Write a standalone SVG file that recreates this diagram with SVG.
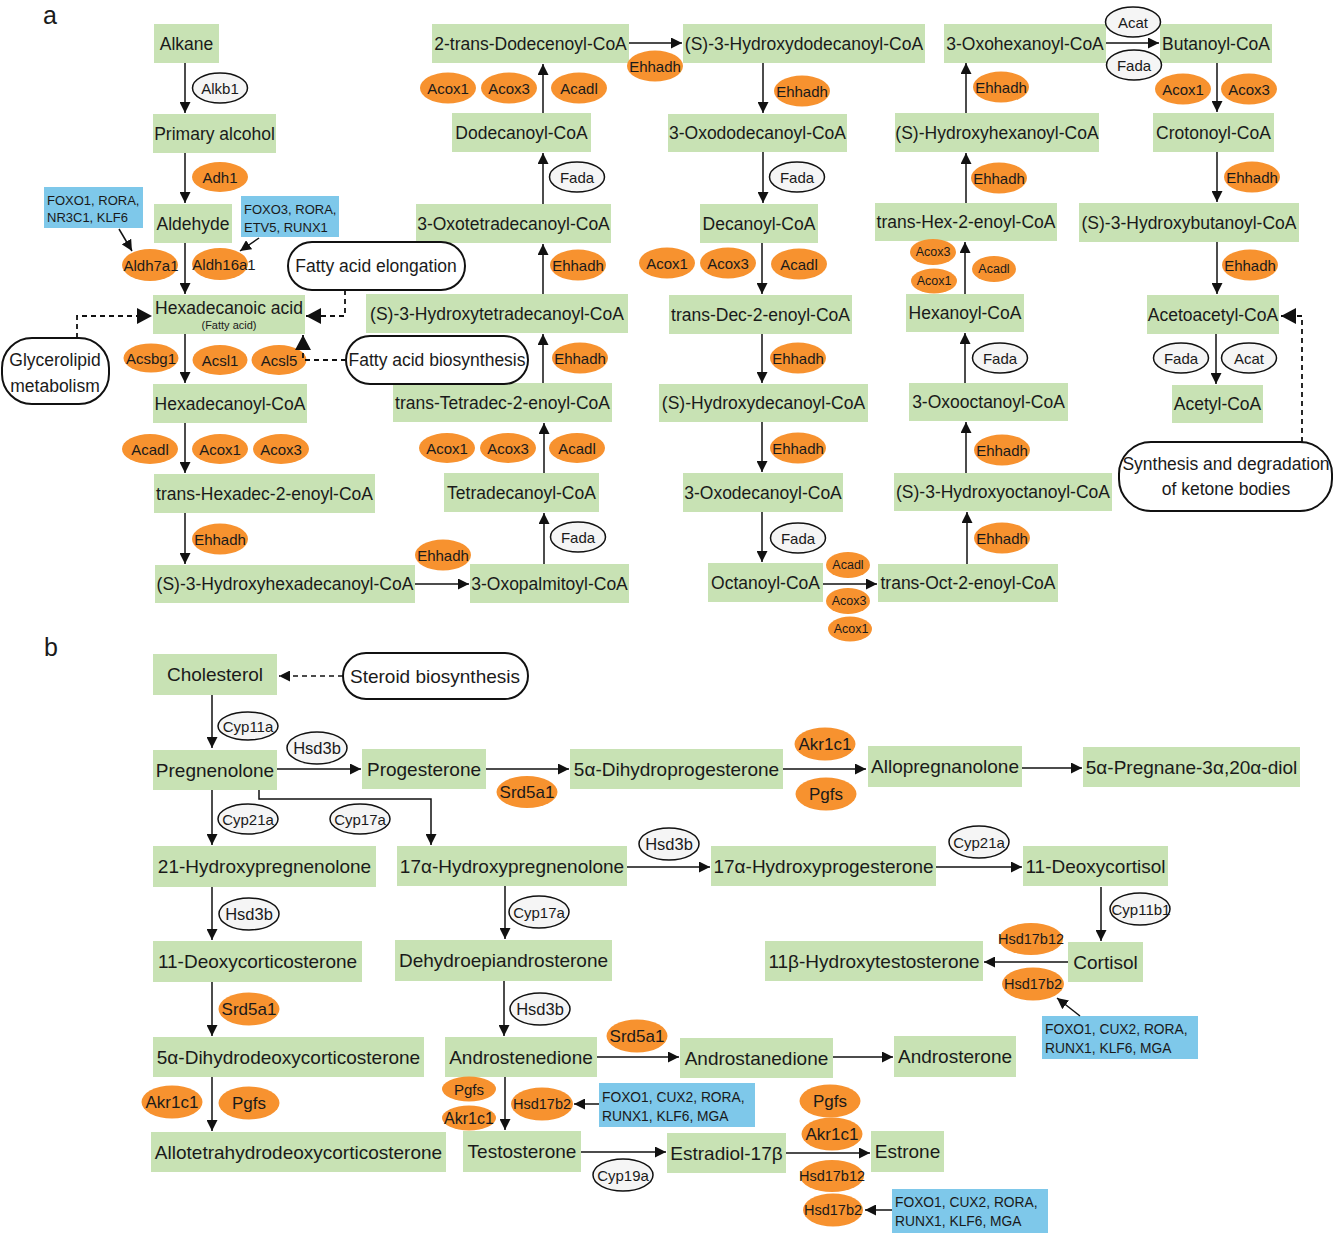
<svg xmlns="http://www.w3.org/2000/svg" width="1333" height="1233" viewBox="0 0 1333 1233">
<defs>
<marker id="ar" markerUnits="userSpaceOnUse" markerWidth="11" markerHeight="11" viewBox="0 0 11 11" refX="11" refY="5.5" orient="auto"><path d="M0,0L11,5.5L0,11z" fill="#111"/></marker>
<marker id="arb" markerUnits="userSpaceOnUse" markerWidth="15" markerHeight="16" viewBox="0 0 15 16" refX="15" refY="8" orient="auto"><path d="M0,0L15,8L0,16z" fill="#111"/></marker>
</defs>
<style>
text{font-family:"Liberation Sans",Arial,sans-serif;fill:#1a1a1a;text-anchor:middle;dominant-baseline:central}
.m rect{fill:#c8e2b4}
.m text{font-size:17.5px}
.mb rect{fill:#c8e2b4}
.mb text{font-size:19px}
.o ellipse{fill:#f7922f}
.o text{font-size:15px}
.os ellipse{fill:#f7922f}
.os text{font-size:12.5px}
.w ellipse{fill:#f5f5f5;stroke:#111;stroke-width:1.5}
.w text{font-size:15px}
.t rect{fill:#7ec8ea}
.t text{font-size:13px;text-anchor:start}
.tb rect{fill:#7ec8ea}
.tb text{font-size:13.8px;text-anchor:start}
.p rect{fill:#fff;stroke:#111;stroke-width:2}
.p text{font-size:17.5px}
#connectors line,#connectors path{stroke:#111;stroke-width:1.5;fill:none}
#connectors .d{stroke-dasharray:5,4;stroke-width:1.8}
.lbl{font-size:25px}
</style>
<rect width="1333" height="1233" fill="#fff"/>
<text class="lbl" x="50" y="15">a</text>
<text class="lbl" x="51" y="647">b</text>

<!-- Part a compounds -->
<g id="alkane" class="m"><rect x="154" y="24" width="65" height="39"/><text x="186.5" y="43.5">Alkane</text></g>
<g id="primary-alcohol" class="m"><rect x="153" y="114" width="123" height="39"/><text x="214.5" y="133.5">Primary alcohol</text></g>
<g id="aldehyde" class="m"><rect x="154" y="204" width="78" height="39"/><text x="193" y="223.5">Aldehyde</text></g>
<g id="hexadecanoic-acid" class="m"><rect x="153" y="295" width="152" height="39"/><text x="229" y="308">Hexadecanoic acid</text><text x="229" y="325" style="font-size:11px">(Fatty acid)</text></g>
<g id="hexadecanoyl-coa" class="m"><rect x="153" y="384" width="154" height="39"/><text x="230" y="403.5">Hexadecanoyl-CoA</text></g>
<g id="trans-hexadec" class="m"><rect x="154" y="474" width="221" height="39"/><text x="264.5" y="493.5">trans-Hexadec-2-enoyl-CoA</text></g>
<g id="s3-hydroxyhexadecanoyl" class="m"><rect x="155" y="565" width="260" height="38"/><text x="285" y="584">(S)-3-Hydroxyhexadecanoyl-CoA</text></g>
<g id="oxopalmitoyl" class="m"><rect x="470" y="564" width="159" height="39"/><text x="549.5" y="583.5">3-Oxopalmitoyl-CoA</text></g>
<g id="tetradecanoyl" class="m"><rect x="444" y="473" width="155" height="39"/><text x="521.5" y="492.5">Tetradecanoyl-CoA</text></g>
<g id="trans-tetradec" class="m"><rect x="393" y="383" width="219" height="39"/><text x="502.5" y="402.5">trans-Tetradec-2-enoyl-CoA</text></g>
<g id="s3-hydroxytetradecanoyl" class="m"><rect x="366" y="294" width="262" height="39"/><text x="497" y="313.5">(S)-3-Hydroxytetradecanoyl-CoA</text></g>
<g id="oxotetradecanoyl" class="m"><rect x="416" y="204" width="195" height="39"/><text x="513.5" y="223.5">3-Oxotetradecanoyl-CoA</text></g>
<g id="dodecanoyl" class="m"><rect x="452" y="113" width="139" height="39"/><text x="521.5" y="132.5">Dodecanoyl-CoA</text></g>
<g id="trans-dodecenoyl" class="m"><rect x="432" y="24" width="197" height="39"/><text x="530.5" y="43.5">2-trans-Dodecenoyl-CoA</text></g>
<g id="s3-hydroxydodecanoyl" class="m"><rect x="683" y="24" width="242" height="39"/><text x="804" y="43.5">(S)-3-Hydroxydodecanoyl-CoA</text></g>
<g id="oxododecanoyl" class="m"><rect x="668" y="114" width="179" height="38"/><text x="757.5" y="133">3-Oxododecanoyl-CoA</text></g>
<g id="decanoyl" class="m"><rect x="700" y="204" width="118" height="39"/><text x="759" y="223.5">Decanoyl-CoA</text></g>
<g id="trans-dec" class="m"><rect x="669" y="295" width="183" height="39"/><text x="760.5" y="314.5">trans-Dec-2-enoyl-CoA</text></g>
<g id="s-hydroxydecanoyl" class="m"><rect x="659" y="384" width="209" height="38"/><text x="763.5" y="403">(S)-Hydroxydecanoyl-CoA</text></g>
<g id="oxodecanoyl" class="m"><rect x="683" y="473" width="160" height="39"/><text x="763" y="492.5">3-Oxodecanoyl-CoA</text></g>
<g id="octanoyl" class="m"><rect x="708" y="563" width="115" height="39"/><text x="765.5" y="582.5">Octanoyl-CoA</text></g>
<g id="trans-oct" class="m"><rect x="878" y="564" width="180" height="38"/><text x="968" y="583">trans-Oct-2-enoyl-CoA</text></g>
<g id="s3-hydroxyoctanoyl" class="m"><rect x="894" y="473" width="218" height="38"/><text x="1003" y="492">(S)-3-Hydroxyoctanoyl-CoA</text></g>
<g id="oxooctanoyl" class="m"><rect x="909" y="383" width="159" height="38"/><text x="988.5" y="402">3-Oxooctanoyl-CoA</text></g>
<g id="hexanoyl" class="m"><rect x="906" y="294" width="118" height="38"/><text x="965" y="313">Hexanoyl-CoA</text></g>
<g id="trans-hex" class="m"><rect x="875" y="203" width="182" height="38"/><text x="966" y="222">trans-Hex-2-enoyl-CoA</text></g>
<g id="s-hydroxyhexanoyl" class="m"><rect x="895" y="113" width="204" height="39"/><text x="997" y="132.5">(S)-Hydroxyhexanoyl-CoA</text></g>
<g id="oxohexanoyl" class="m"><rect x="944" y="24" width="162" height="39"/><text x="1025" y="43.5">3-Oxohexanoyl-CoA</text></g>
<g id="butanoyl" class="m"><rect x="1160" y="24" width="112" height="39"/><text x="1216" y="43.5">Butanoyl-CoA</text></g>
<g id="crotonoyl" class="m"><rect x="1153" y="113" width="121" height="39"/><text x="1213.5" y="132.5">Crotonoyl-CoA</text></g>
<g id="s3-hydroxybutanoyl" class="m"><rect x="1079" y="203" width="220" height="39"/><text x="1189" y="222.5">(S)-3-Hydroxybutanoyl-CoA</text></g>
<g id="acetoacetyl" class="m"><rect x="1147" y="295" width="132" height="39"/><text x="1213" y="314.5">Acetoacetyl-CoA</text></g>
<g id="acetyl" class="m"><rect x="1172" y="385" width="91" height="38"/><text x="1217.5" y="404">Acetyl-CoA</text></g>

<!-- Part a pathway boxes -->
<g id="fa-elongation" class="p"><rect x="288" y="242" width="177" height="48" rx="24"/><text x="376" y="266">Fatty acid elongation</text></g>
<g id="glycerolipid" class="p"><rect x="2" y="338" width="107" height="66" rx="30"/><text x="55" y="360">Glycerolipid</text><text x="55" y="386">metabolism</text></g>
<g id="fa-biosynthesis" class="p"><rect x="346" y="336" width="182" height="48" rx="24"/><text x="437" y="360">Fatty acid biosynthesis</text></g>
<g id="ketone" class="p"><rect x="1119" y="442" width="213" height="69" rx="32"/><text x="1226" y="464">Synthesis and degradation</text><text x="1226" y="489">of ketone bodies</text></g>

<!-- Part a TF boxes -->
<g id="tf-a1" class="t"><rect x="44" y="187" width="99" height="41"/><text x="47" y="200">FOXO1, RORA,</text><text x="47" y="217">NR3C1, KLF6</text></g>
<g id="tf-a2" class="t"><rect x="241" y="196" width="98" height="41"/><text x="244" y="209">FOXO3, RORA,</text><text x="244" y="227">ETV5, RUNX1</text></g>

<!-- Part a enzymes -->
<g id="alkb1" class="w"><ellipse cx="220" cy="88" rx="27.5" ry="15"/><text x="220" y="88">Alkb1</text></g>
<g id="adh1" class="o"><ellipse cx="220" cy="177" rx="28" ry="15"/><text x="220" y="177">Adh1</text></g>
<g id="aldh7a1" class="o"><ellipse cx="150" cy="265" rx="28" ry="16"/><text x="151" y="265">Aldh7a1</text></g>
<g id="aldh16a1" class="o"><ellipse cx="220" cy="264" rx="28" ry="16"/><text x="224" y="264">Aldh16a1</text></g>
<g id="acsbg1" class="o"><ellipse cx="151" cy="358" rx="27.5" ry="14.5"/><text x="151" y="358">Acsbg1</text></g>
<g id="acsl1" class="o"><ellipse cx="220" cy="360" rx="27.5" ry="15"/><text x="220" y="360">Acsl1</text></g>
<g id="acsl5" class="o"><ellipse cx="279" cy="360" rx="27.5" ry="15"/><text x="279" y="360">Acsl5</text></g>
<g id="acadl-a1" class="o"><ellipse cx="150" cy="449" rx="28" ry="15"/><text x="150" y="449">Acadl</text></g>
<g id="acox1-a1" class="o"><ellipse cx="220" cy="449" rx="28" ry="15"/><text x="220" y="449">Acox1</text></g>
<g id="acox3-a1" class="o"><ellipse cx="281" cy="449" rx="28" ry="15"/><text x="281" y="449">Acox3</text></g>
<g id="ehhadh-a1" class="o"><ellipse cx="220" cy="539" rx="28" ry="15.5"/><text x="220" y="539">Ehhadh</text></g>
<g id="ehhadh-a2" class="o"><ellipse cx="443" cy="555" rx="28" ry="15.5"/><text x="443" y="555">Ehhadh</text></g>
<g id="fada-a1" class="w"><ellipse cx="578" cy="537" rx="27.5" ry="15"/><text x="578" y="537">Fada</text></g>
<g id="acox1-a2" class="o"><ellipse cx="447" cy="448" rx="28" ry="15"/><text x="447" y="448">Acox1</text></g>
<g id="acox3-a2" class="o"><ellipse cx="508" cy="448" rx="28" ry="15"/><text x="508" y="448">Acox3</text></g>
<g id="acadl-a2" class="o"><ellipse cx="577" cy="448" rx="28" ry="15"/><text x="577" y="448">Acadl</text></g>
<g id="ehhadh-a3" class="o"><ellipse cx="580" cy="358" rx="28" ry="15.5"/><text x="580" y="358">Ehhadh</text></g>
<g id="ehhadh-a4" class="o"><ellipse cx="578" cy="265" rx="28" ry="15.5"/><text x="578" y="265">Ehhadh</text></g>
<g id="fada-a2" class="w"><ellipse cx="577" cy="177" rx="27.5" ry="15"/><text x="577" y="177">Fada</text></g>
<g id="acox1-a3" class="o"><ellipse cx="448" cy="88" rx="28" ry="15.5"/><text x="448" y="88">Acox1</text></g>
<g id="acox3-a3" class="o"><ellipse cx="509" cy="88" rx="28" ry="15.5"/><text x="509" y="88">Acox3</text></g>
<g id="acadl-a3" class="o"><ellipse cx="579" cy="88" rx="28" ry="15.5"/><text x="579" y="88">Acadl</text></g>
<g id="ehhadh-a5" class="o"><ellipse cx="655" cy="66" rx="28" ry="15.5"/><text x="655" y="66">Ehhadh</text></g>
<g id="ehhadh-a6" class="o"><ellipse cx="802" cy="91" rx="28" ry="15.5"/><text x="802" y="91">Ehhadh</text></g>
<g id="fada-a3" class="w"><ellipse cx="797" cy="177" rx="27.5" ry="15"/><text x="797" y="177">Fada</text></g>
<g id="acox1-a4" class="o"><ellipse cx="667" cy="263" rx="28" ry="15.5"/><text x="667" y="263">Acox1</text></g>
<g id="acox3-a4" class="o"><ellipse cx="728" cy="263" rx="28" ry="15.5"/><text x="728" y="263">Acox3</text></g>
<g id="acadl-a4" class="o"><ellipse cx="799" cy="264" rx="28" ry="15.5"/><text x="799" y="264">Acadl</text></g>
<g id="ehhadh-a7" class="o"><ellipse cx="798" cy="358" rx="28" ry="15.5"/><text x="798" y="358">Ehhadh</text></g>
<g id="ehhadh-a8" class="o"><ellipse cx="798" cy="448" rx="28" ry="15.5"/><text x="798" y="448">Ehhadh</text></g>
<g id="fada-a4" class="w"><ellipse cx="798" cy="538" rx="27.5" ry="15"/><text x="798" y="538">Fada</text></g>
<g id="acadl-a5" class="os"><ellipse cx="848" cy="565" rx="22" ry="13"/><text x="848" y="565">Acadl</text></g>
<g id="acox3-a5" class="os"><ellipse cx="848" cy="601" rx="22" ry="13"/><text x="849" y="601">Acox3</text></g>
<g id="acox1-a5" class="os"><ellipse cx="850" cy="629" rx="22" ry="12.5"/><text x="851" y="629">Acox1</text></g>
<g id="ehhadh-a9" class="o"><ellipse cx="1002" cy="538" rx="28" ry="15.5"/><text x="1002" y="538">Ehhadh</text></g>
<g id="ehhadh-a10" class="o"><ellipse cx="1002" cy="450" rx="28" ry="15.5"/><text x="1002" y="450">Ehhadh</text></g>
<g id="fada-a5" class="w"><ellipse cx="1000" cy="358" rx="27.5" ry="15"/><text x="1000" y="358">Fada</text></g>
<g id="acox3-a6" class="os"><ellipse cx="933" cy="252" rx="23" ry="13"/><text x="933" y="252">Acox3</text></g>
<g id="acox1-a6" class="os"><ellipse cx="934" cy="281" rx="23" ry="12.5"/><text x="934" y="281">Acox1</text></g>
<g id="acadl-a6" class="os"><ellipse cx="994" cy="269" rx="22" ry="13"/><text x="994" y="269">Acadl</text></g>
<g id="ehhadh-a11" class="o"><ellipse cx="999" cy="178" rx="28" ry="15.5"/><text x="999" y="178">Ehhadh</text></g>
<g id="ehhadh-a12" class="o"><ellipse cx="1001" cy="87" rx="28" ry="15.5"/><text x="1001" y="87">Ehhadh</text></g>
<g id="acat-a1" class="w"><ellipse cx="1133" cy="22" rx="27.5" ry="15"/><text x="1133" y="22">Acat</text></g>
<g id="fada-a6" class="w"><ellipse cx="1134" cy="65" rx="27.5" ry="15"/><text x="1134" y="65">Fada</text></g>
<g id="acox1-a7" class="o"><ellipse cx="1183" cy="89" rx="28" ry="15.5"/><text x="1183" y="89">Acox1</text></g>
<g id="acox3-a7" class="o"><ellipse cx="1249" cy="89" rx="28" ry="15.5"/><text x="1249" y="89">Acox3</text></g>
<g id="ehhadh-a13" class="o"><ellipse cx="1252" cy="177" rx="28" ry="15.5"/><text x="1252" y="177">Ehhadh</text></g>
<g id="ehhadh-a14" class="o"><ellipse cx="1250" cy="265" rx="28" ry="15.5"/><text x="1250" y="265">Ehhadh</text></g>
<g id="fada-a7" class="w"><ellipse cx="1181" cy="358" rx="27.5" ry="15"/><text x="1181" y="358">Fada</text></g>
<g id="acat-a2" class="w"><ellipse cx="1249" cy="358" rx="27.5" ry="15"/><text x="1249" y="358">Acat</text></g>

<!-- Part b compounds -->
<g id="cholesterol" class="mb"><rect x="153" y="654" width="124" height="41"/><text x="215" y="674.5">Cholesterol</text></g>
<g id="pregnenolone" class="mb"><rect x="153" y="750" width="124" height="40"/><text x="215" y="770">Pregnenolone</text></g>
<g id="progesterone" class="mb"><rect x="362" y="749" width="124" height="40"/><text x="424" y="769">Progesterone</text></g>
<g id="dihydroprogesterone" class="mb"><rect x="570" y="749" width="213" height="40"/><text x="676.5" y="769">5α-Dihydroprogesterone</text></g>
<g id="allopregnanolone" class="mb"><rect x="868" y="746" width="154" height="41"/><text x="945" y="766.5">Allopregnanolone</text></g>
<g id="pregnanediol" class="mb"><rect x="1083" y="747" width="217" height="40"/><text x="1191.5" y="767">5α-Pregnane-3α,20α-diol</text></g>
<g id="hydroxypregnenolone21" class="mb"><rect x="153" y="846" width="223" height="41"/><text x="264.5" y="866.5">21-Hydroxypregnenolone</text></g>
<g id="hydroxypregnenolone17" class="mb"><rect x="397" y="846" width="230" height="40"/><text x="512" y="866">17α-Hydroxypregnenolone</text></g>
<g id="hydroxyprogesterone17" class="mb"><rect x="711" y="846" width="225" height="40"/><text x="823.5" y="866">17α-Hydroxyprogesterone</text></g>
<g id="deoxycortisol" class="mb"><rect x="1023" y="846" width="145" height="40"/><text x="1095.5" y="866">11-Deoxycortisol</text></g>
<g id="cortisol" class="mb"><rect x="1068" y="942" width="75" height="40"/><text x="1105.5" y="962">Cortisol</text></g>
<g id="hydroxytestosterone" class="mb"><rect x="765" y="941" width="218" height="40"/><text x="874" y="961">11β-Hydroxytestosterone</text></g>
<g id="deoxycorticosterone" class="mb"><rect x="153" y="941" width="209" height="41"/><text x="257.5" y="961.5">11-Deoxycorticosterone</text></g>
<g id="dhea" class="mb"><rect x="395" y="940" width="217" height="41"/><text x="503.5" y="960.5">Dehydroepiandrosterone</text></g>
<g id="dihydrodeoxycorticosterone" class="mb"><rect x="153" y="1037" width="271" height="40"/><text x="288.5" y="1057">5α-Dihydrodeoxycorticosterone</text></g>
<g id="androstenedione" class="mb"><rect x="445" y="1037" width="152" height="40"/><text x="521" y="1057">Androstenedione</text></g>
<g id="androstanedione" class="mb"><rect x="680" y="1038" width="153" height="40"/><text x="756.5" y="1058">Androstanedione</text></g>
<g id="androsterone" class="mb"><rect x="894" y="1036" width="122" height="41"/><text x="955" y="1056.5">Androsterone</text></g>
<g id="allotetrahydro" class="mb"><rect x="151" y="1132" width="295" height="40"/><text x="298.5" y="1152">Allotetrahydrodeoxycorticosterone</text></g>
<g id="testosterone" class="mb"><rect x="463" y="1131" width="118" height="41"/><text x="522" y="1151.5">Testosterone</text></g>
<g id="estradiol" class="mb"><rect x="667" y="1133" width="119" height="40"/><text x="726.5" y="1153">Estradiol-17β</text></g>
<g id="estrone" class="mb"><rect x="871" y="1131" width="73" height="41"/><text x="907.5" y="1151.5">Estrone</text></g>

<g id="steroid-biosynthesis" class="p"><rect x="343" y="653" width="185" height="46" rx="23"/><text x="435" y="676" style="font-size:19px">Steroid biosynthesis</text></g>

<!-- Part b TF boxes -->
<g id="tf-b1" class="tb"><rect x="1042" y="1016" width="156" height="43"/><text x="1045" y="1029">FOXO1, CUX2, RORA,</text><text x="1045" y="1048">RUNX1, KLF6, MGA</text></g>
<g id="tf-b2" class="tb"><rect x="599" y="1083" width="156" height="44"/><text x="602" y="1097">FOXO1, CUX2, RORA,</text><text x="602" y="1116">RUNX1, KLF6, MGA</text></g>
<g id="tf-b3" class="tb"><rect x="892" y="1189" width="156" height="44"/><text x="895" y="1202">FOXO1, CUX2, RORA,</text><text x="895" y="1221">RUNX1, KLF6, MGA</text></g>

<!-- Part b enzymes -->
<g id="cyp11a" class="w"><ellipse cx="248" cy="726" rx="30" ry="14"/><text x="248" y="726">Cyp11a</text></g>
<g id="hsd3b-b1" class="w"><ellipse cx="317" cy="748" rx="30" ry="16"/><text x="317" y="748" style="font-size:16.5px">Hsd3b</text></g>
<g id="cyp21a-b1" class="w"><ellipse cx="248" cy="819" rx="30" ry="15"/><text x="248" y="819">Cyp21a</text></g>
<g id="cyp17a-b1" class="w"><ellipse cx="360" cy="819" rx="30" ry="15"/><text x="360" y="819">Cyp17a</text></g>
<g id="hsd3b-b2" class="w"><ellipse cx="669" cy="844" rx="30" ry="16"/><text x="669" y="844" style="font-size:16.5px">Hsd3b</text></g>
<g id="cyp21a-b2" class="w"><ellipse cx="979" cy="842" rx="30" ry="16"/><text x="979" y="842">Cyp21a</text></g>
<g id="cyp11b1" class="w"><ellipse cx="1140" cy="909" rx="30" ry="16"/><text x="1141" y="909">Cyp11b1</text></g>
<g id="hsd3b-b3" class="w"><ellipse cx="249" cy="914" rx="30" ry="16"/><text x="249" y="914" style="font-size:16.5px">Hsd3b</text></g>
<g id="cyp17a-b2" class="w"><ellipse cx="539" cy="912" rx="30" ry="16"/><text x="539" y="912">Cyp17a</text></g>
<g id="hsd3b-b4" class="w"><ellipse cx="540" cy="1009" rx="30" ry="16"/><text x="540" y="1009" style="font-size:16.5px">Hsd3b</text></g>
<g id="cyp19a" class="w"><ellipse cx="623" cy="1175" rx="30" ry="16"/><text x="623" y="1175">Cyp19a</text></g>

<g id="srd5a1-b1" class="o"><ellipse cx="527" cy="792" rx="30.5" ry="16"/><text x="527" y="792" style="font-size:17px">Srd5a1</text></g>
<g id="akr1c1-b1" class="o"><ellipse cx="825" cy="744" rx="30.5" ry="16.5"/><text x="825" y="744" style="font-size:17px">Akr1c1</text></g>
<g id="pgfs-b1" class="o"><ellipse cx="826" cy="794" rx="30.5" ry="16.5"/><text x="826" y="794" style="font-size:17px">Pgfs</text></g>
<g id="hsd17b12-b1" class="o"><ellipse cx="1031" cy="939" rx="32" ry="16"/><text x="1031" y="939" style="font-size:14.5px">Hsd17b12</text></g>
<g id="hsd17b2-b1" class="o"><ellipse cx="1033" cy="984" rx="31" ry="16.5"/><text x="1033" y="984" style="font-size:14.5px">Hsd17b2</text></g>
<g id="srd5a1-b2" class="o"><ellipse cx="249" cy="1009" rx="30.5" ry="16.5"/><text x="249" y="1009" style="font-size:17px">Srd5a1</text></g>
<g id="akr1c1-b2" class="o"><ellipse cx="172" cy="1102" rx="30.5" ry="16.5"/><text x="172" y="1102" style="font-size:17px">Akr1c1</text></g>
<g id="pgfs-b2" class="o"><ellipse cx="249" cy="1103" rx="30.5" ry="16.5"/><text x="249" y="1103" style="font-size:17px">Pgfs</text></g>
<g id="srd5a1-b3" class="o"><ellipse cx="637" cy="1036" rx="30.5" ry="16.5"/><text x="637" y="1036" style="font-size:17px">Srd5a1</text></g>
<g id="pgfs-b3" class="o"><ellipse cx="469" cy="1089" rx="27" ry="12.5"/><text x="469" y="1089" style="font-size:15px">Pgfs</text></g>
<g id="akr1c1-b3" class="o"><ellipse cx="469" cy="1118" rx="27" ry="12.5"/><text x="469" y="1118" style="font-size:16px">Akr1c1</text></g>
<g id="hsd17b2-b2" class="o"><ellipse cx="542" cy="1104" rx="31" ry="16.5"/><text x="542" y="1104" style="font-size:14.5px">Hsd17b2</text></g>
<g id="pgfs-b4" class="o"><ellipse cx="830" cy="1101" rx="30.5" ry="16.5"/><text x="830" y="1101" style="font-size:17px">Pgfs</text></g>
<g id="akr1c1-b4" class="o"><ellipse cx="832" cy="1134" rx="30.5" ry="16.5"/><text x="832" y="1134" style="font-size:17px">Akr1c1</text></g>
<g id="hsd17b12-b2" class="o"><ellipse cx="832" cy="1176" rx="32" ry="16"/><text x="832" y="1176" style="font-size:14.5px">Hsd17b12</text></g>
<g id="hsd17b2-b3" class="o"><ellipse cx="833" cy="1210" rx="30" ry="16.5"/><text x="833" y="1210" style="font-size:14.5px">Hsd17b2</text></g>

<!-- Connectors -->
<g id="connectors">
<line x1="185" y1="63" x2="185" y2="113" marker-end="url(#ar)"/>
<line x1="185" y1="153" x2="185" y2="203" marker-end="url(#ar)"/>
<line x1="185" y1="243" x2="185" y2="294" marker-end="url(#ar)"/>
<line x1="119" y1="229" x2="132" y2="251" marker-end="url(#ar)"/>
<line x1="259" y1="238" x2="240" y2="251" marker-end="url(#ar)"/>
<line x1="185" y1="334" x2="185" y2="383" marker-end="url(#ar)"/>
<line x1="185" y1="423" x2="185" y2="473" marker-end="url(#ar)"/>
<line x1="185" y1="513" x2="185" y2="564" marker-end="url(#ar)"/>
<line x1="415" y1="584" x2="469" y2="584" marker-end="url(#ar)"/>
<line x1="544" y1="564" x2="544" y2="513" marker-end="url(#ar)"/>
<line x1="544" y1="473" x2="544" y2="423" marker-end="url(#ar)"/>
<line x1="543" y1="383" x2="543" y2="334" marker-end="url(#ar)"/>
<line x1="543" y1="294" x2="543" y2="244" marker-end="url(#ar)"/>
<line x1="543" y1="204" x2="543" y2="153" marker-end="url(#ar)"/>
<line x1="543" y1="113" x2="543" y2="64" marker-end="url(#ar)"/>
<line x1="629" y1="43" x2="682" y2="43" marker-end="url(#ar)"/>
<line x1="763" y1="63" x2="763" y2="113" marker-end="url(#ar)"/>
<line x1="763" y1="152" x2="763" y2="203" marker-end="url(#ar)"/>
<line x1="762" y1="243" x2="762" y2="294" marker-end="url(#ar)"/>
<line x1="762" y1="334" x2="762" y2="383" marker-end="url(#ar)"/>
<line x1="762" y1="422" x2="762" y2="472" marker-end="url(#ar)"/>
<line x1="762" y1="512" x2="762" y2="562" marker-end="url(#ar)"/>
<line x1="823" y1="584" x2="877" y2="584" marker-end="url(#ar)"/>
<line x1="967" y1="564" x2="967" y2="512" marker-end="url(#ar)"/>
<line x1="966" y1="473" x2="966" y2="422" marker-end="url(#ar)"/>
<line x1="965" y1="383" x2="965" y2="333" marker-end="url(#ar)"/>
<line x1="965" y1="294" x2="965" y2="242" marker-end="url(#ar)"/>
<line x1="966" y1="203" x2="966" y2="153" marker-end="url(#ar)"/>
<line x1="966" y1="113" x2="966" y2="63" marker-end="url(#ar)"/>
<line x1="1106" y1="43" x2="1159" y2="43" marker-end="url(#ar)"/>
<line x1="1217" y1="63" x2="1217" y2="112" marker-end="url(#ar)"/>
<line x1="1217" y1="152" x2="1217" y2="202" marker-end="url(#ar)"/>
<line x1="1217" y1="242" x2="1217" y2="294" marker-end="url(#ar)"/>
<line x1="1216" y1="334" x2="1216" y2="384" marker-end="url(#ar)"/>
<path class="d" d="M345,290V316H306" marker-end="url(#arb)"/>
<path class="d" d="M77,338V316H152" marker-end="url(#arb)"/>
<path class="d" d="M346,360H303V335" marker-end="url(#arb)"/>
<path class="d" d="M1302,442V316H1281" marker-end="url(#arb)"/>
<path class="d" d="M343,676H279" marker-end="url(#ar)" style="stroke-width:1.5"/>
<line x1="212" y1="695" x2="212" y2="748" marker-end="url(#ar)"/>
<line x1="277" y1="769" x2="361" y2="769" marker-end="url(#ar)"/>
<line x1="486" y1="769" x2="569" y2="769" marker-end="url(#ar)"/>
<line x1="783" y1="769" x2="866" y2="769" marker-end="url(#ar)"/>
<line x1="1022" y1="768" x2="1082" y2="768" marker-end="url(#ar)"/>
<line x1="212" y1="790" x2="212" y2="845" marker-end="url(#ar)"/>
<path d="M259,790V799H431V845" marker-end="url(#ar)"/>
<line x1="627" y1="867" x2="710" y2="867" marker-end="url(#ar)"/>
<line x1="936" y1="867" x2="1022" y2="867" marker-end="url(#ar)"/>
<line x1="1101" y1="887" x2="1101" y2="941" marker-end="url(#ar)"/>
<line x1="1068" y1="962" x2="984" y2="962" marker-end="url(#ar)"/>
<line x1="1080" y1="1016" x2="1057" y2="998" marker-end="url(#ar)"/>
<line x1="505" y1="886" x2="505" y2="939" marker-end="url(#ar)"/>
<line x1="212" y1="887" x2="212" y2="940" marker-end="url(#ar)"/>
<line x1="212" y1="982" x2="212" y2="1036" marker-end="url(#ar)"/>
<line x1="212" y1="1077" x2="212" y2="1131" marker-end="url(#ar)"/>
<line x1="504" y1="981" x2="504" y2="1036" marker-end="url(#ar)"/>
<line x1="597" y1="1057" x2="679" y2="1057" marker-end="url(#ar)"/>
<line x1="833" y1="1057" x2="893" y2="1057" marker-end="url(#ar)"/>
<line x1="505" y1="1077" x2="505" y2="1130" marker-end="url(#ar)"/>
<line x1="599" y1="1104" x2="574" y2="1104" marker-end="url(#ar)"/>
<line x1="581" y1="1152" x2="666" y2="1152" marker-end="url(#ar)"/>
<line x1="786" y1="1153" x2="870" y2="1153" marker-end="url(#ar)"/>
<line x1="892" y1="1210" x2="865" y2="1210" marker-end="url(#ar)"/>
</g>
</svg>
